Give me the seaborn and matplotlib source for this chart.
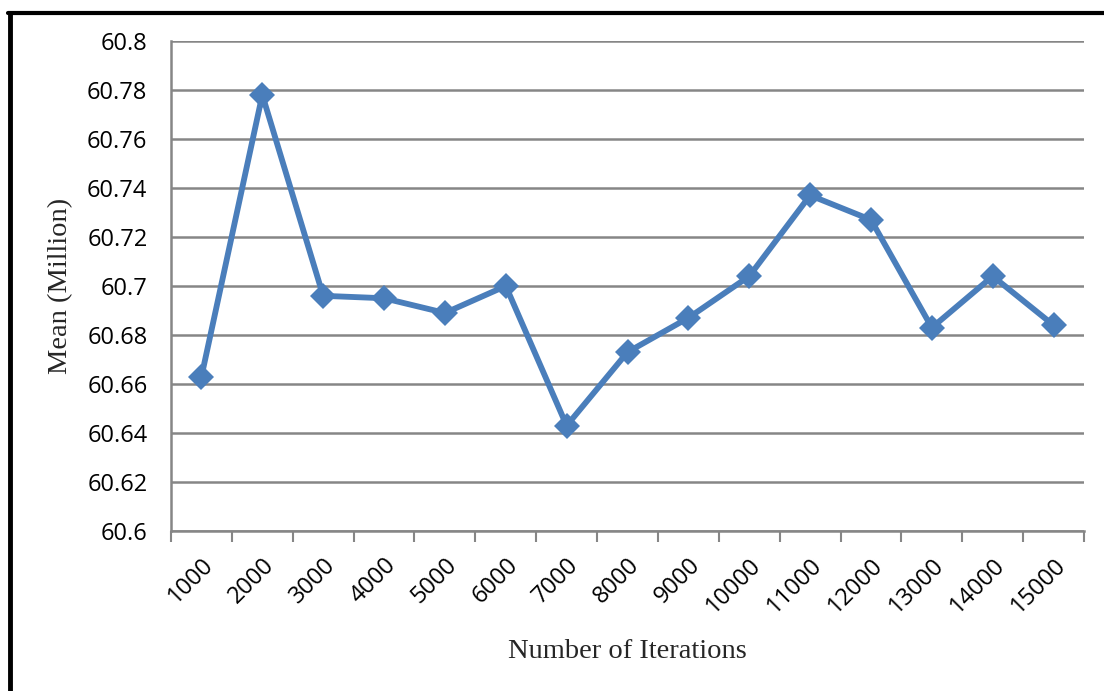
import matplotlib
matplotlib.use("Agg")
import matplotlib.pyplot as plt
from matplotlib.lines import Line2D
from matplotlib.ticker import FixedLocator, FuncFormatter
import pandas as pd
import seaborn as sns

iterations = ["1000", "2000", "3000", "4000", "5000", "6000", "7000", "8000",
              "9000", "10000", "11000", "12000", "13000", "14000", "15000"]
mean_million = [60.663, 60.778, 60.696, 60.695, 60.689, 60.700, 60.643, 60.673,
                60.687, 60.704, 60.737, 60.727, 60.683, 60.704, 60.684]
y_ticks = [60.6, 60.62, 60.64, 60.66, 60.68, 60.7, 60.72, 60.74, 60.76, 60.78, 60.8]

df = pd.DataFrame({"iterations": iterations, "mean": mean_million})

sns.set_style("white")
tick_font = "Open Sans"
label_font = "Liberation Serif"

fig = plt.figure(figsize=(11.04, 6.91), dpi=100)
ax = fig.add_axes([0.1549, 0.2315, 0.8270, 0.7092])

sns.lineplot(data=df, x="iterations", y="mean", ax=ax, color="#4A7EBB",
             linewidth=4.2, marker="D", markersize=13, markeredgewidth=0,
             sort=False)

n = len(iterations)
ax.set_xlim(-0.5, n - 0.5)
ax.set_ylim(60.6, 60.8)

# y axis
ax.yaxis.set_major_locator(FixedLocator(y_ticks))
ax.yaxis.set_major_formatter(FuncFormatter(lambda v, p: f"{round(v, 2):g}"))
ax.grid(axis="y", color="#868686", linewidth=1.8)
ax.grid(axis="x", visible=False)
ax.tick_params(axis="y", which="major", length=8, width=1.5, color="#868686",
               pad=9, labelsize=17)

# x axis: labels at category centers, ticks at boundaries
ax.set_xticks(range(n))
ax.set_xticklabels(iterations, rotation=45, ha="right", rotation_mode="anchor")
ax.set_xticks([i - 0.5 for i in range(n + 1)], minor=True)
ax.tick_params(axis="x", which="major", length=0, pad=16, labelsize=17)
ax.tick_params(axis="x", which="minor", length=8, width=1.5, color="#868686",
               bottom=True)

for lbl in ax.get_xticklabels() + ax.get_yticklabels():
    lbl.set_fontfamily(tick_font)
    lbl.set_color("black")

for side in ["top", "right"]:
    ax.spines[side].set_visible(False)
for side in ["left", "bottom"]:
    ax.spines[side].set_color("#868686")
    ax.spines[side].set_linewidth(1.8)

ax.set_xlabel("Number of Iterations", fontfamily=label_font, fontsize=20.5,
              labelpad=15)
ax.set_ylabel("Mean (Million)", fontfamily=label_font, fontsize=20.5,
              labelpad=10)

# frame around the figure (only left and top edges visible)
W, H = 1104, 691
fig.add_artist(Line2D([10 / W, 10 / W], [0, 1 - 13 / H], color="black",
                      linewidth=3.5, transform=fig.transFigure))
fig.add_artist(Line2D([8 / W, 1], [1 - 13 / H, 1 - 13 / H], color="black",
                      linewidth=3, transform=fig.transFigure))

fig.savefig("out.png", dpi=100)
